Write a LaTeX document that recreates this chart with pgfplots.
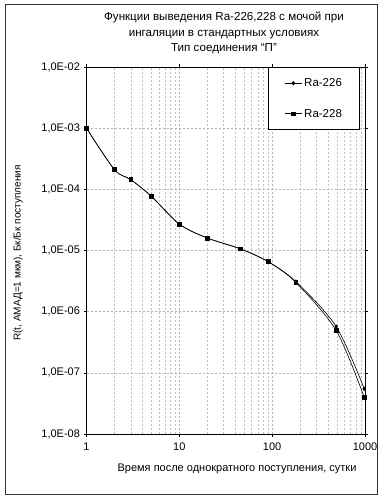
\documentclass[border=0pt]{standalone}
\usepackage{fontspec}
\setmainfont{Liberation Sans}
\usepackage{pgfplots}
\pgfplotsset{compat=1.18}
\begin{document}
\begin{tikzpicture}[x=1pt,y=1pt]
\useasboundingbox (0,0) rectangle (386,503);
\draw[line width=0.6pt, black!80] (5,9) rectangle (377,499);
\begin{axis}[
  at={(86.5pt,69pt)}, anchor=south west, scale only axis,
  width=278.5pt, height=367pt,
  xmode=log, ymode=log, xmin=1, xmax=1000, ymin=1e-8, ymax=1e-2,
  xtick={1,10,100,1000}, xticklabels={1,10,100,1000},
  ytick={1e-8,1e-7,1e-6,1e-5,1e-4,1e-3,1e-2},
  yticklabels={{1,0E-08},{1,0E-07},{1,0E-06},{1,0E-05},{1,0E-04},{1,0E-03},{1,0E-02}},
  xmajorgrids, xminorgrids, ymajorgrids,
  major grid style={gray!60, dash pattern=on 2pt off 2pt, line width=0.4pt},
  minor grid style={gray!50, dash pattern=on 2pt off 2pt, line width=0.4pt},
  tick align=outside, major tick length=3pt, minor tick length=0pt,
  axis line style={line width=0.9pt},
  tick style={black, line width=0.6pt},
  xticklabel style={font=\fontsize{11}{13}\selectfont, yshift=-2pt},
  yticklabel style={font=\fontsize{11}{13}\selectfont},
  legend style={at={(rel axis cs:0.652,1)}, anchor=north west, draw=black,
    line width=0.9pt, inner xsep=16pt, inner ysep=9pt, row sep=17pt,
    font=\fontsize{11.5}{13}\selectfont},
  legend cell align=left,
]
\addplot[black, line width=0.6pt, smooth, mark=diamond*, mark size=1.8pt, mark options={solid}]
coordinates {(1,1e-3) (2,2.1e-4) (3,1.44e-4) (5,7.7e-5) (10,2.7e-5) (20,1.6e-5) (45,1.07e-5) (90,6.6e-6) (180,3.1e-6) (490,5.7e-7) (980,5.5e-8)};
\addlegendentry{Ra-226}
\addplot[black, line width=0.6pt, smooth, mark=square*, mark size=1.9pt, mark options={solid}]
coordinates {(1,1e-3) (2,2.1e-4) (3,1.44e-4) (5,7.7e-5) (10,2.7e-5) (20,1.6e-5) (45,1.07e-5) (90,6.6e-6) (180,3.0e-6) (490,4.9e-7) (980,4.0e-8)};
\addlegendentry{Ra-228}
\end{axis}
\node[align=center, font=\fontsize{11.6}{15.5}\selectfont] at (224,470)
  {Функции выведения Ra-226,228 с мочой при\\ингаляции в стандартных условиях\\Тип соединения “П”};
\node[rotate=90, font=\fontsize{10}{12}\selectfont] at (18,250) {R(t, АМАД=1 мкм), Бк/Бк поступления};
\node[font=\fontsize{11}{13}\selectfont] at (237,34) {Время после однократного поступления, сутки};
\end{tikzpicture}
\end{document}
